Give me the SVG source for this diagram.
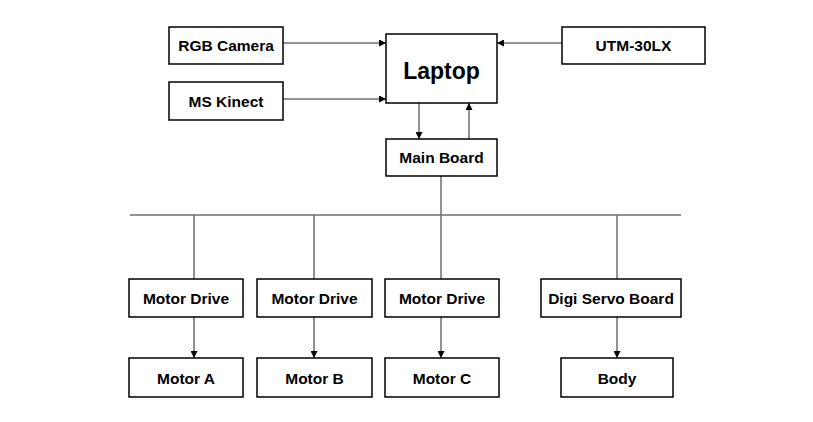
<svg xmlns="http://www.w3.org/2000/svg" width="813" height="422" viewBox="0 0 813 422">
<defs>
<marker id="ah" viewBox="0 0 10 10" refX="10" refY="5" markerWidth="7" markerHeight="7" markerUnits="userSpaceOnUse" orient="auto">
<path d="M0,0 L10,5 L0,10 z" fill="#000"/>
</marker>
</defs>
<style>
.box{fill:#fff;stroke:#000;stroke-width:1.5}
.t{font-family:"Liberation Sans",Arial,sans-serif;font-weight:bold;font-size:15.5px;text-anchor:middle;fill:#000}
.big{font-size:23px}
.c{stroke:#6e6e6e;stroke-width:1.5;fill:none}
.a{marker-end:url(#ah)}
</style>
<rect width="813" height="422" fill="#fff"/>
<g id="connectors">
<line class="c a" x1="283" y1="43" x2="386" y2="43"/>
<line class="c a" x1="283" y1="99" x2="386" y2="99"/>
<line class="c a" x1="562" y1="43" x2="497" y2="43"/>
<line class="c a" x1="419" y1="103" x2="419" y2="139"/>
<line class="c a" x1="469" y1="139" x2="469" y2="103"/>
<line class="c" x1="441" y1="176" x2="441" y2="215"/>
<line class="c" x1="130" y1="215" x2="681" y2="215"/>
<line class="c" x1="194" y1="215" x2="194" y2="279"/>
<line class="c" x1="314" y1="215" x2="314" y2="279"/>
<line class="c" x1="441" y1="215" x2="441" y2="279"/>
<line class="c" x1="617" y1="215" x2="617" y2="279"/>
<line class="c a" x1="194" y1="317" x2="194" y2="358"/>
<line class="c a" x1="314" y1="317" x2="314" y2="358"/>
<line class="c a" x1="441" y1="317" x2="441" y2="358"/>
<line class="c a" x1="617" y1="317" x2="617" y2="358"/>
</g>
<g id="rgb"><rect class="box" x="169" y="27" width="114" height="37"/><text class="t" x="226" y="51">RGB Camera</text></g>
<g id="kinect"><rect class="box" x="169" y="82" width="114" height="38"/><text class="t" x="226" y="106.5">MS Kinect</text></g>
<g id="laptop"><rect class="box" x="386" y="34" width="111" height="69"/><text class="t big" x="441.5" y="79">Laptop</text></g>
<g id="utm"><rect class="box" x="562" y="27" width="143" height="37"/><text class="t" x="633.5" y="51">UTM-30LX</text></g>
<g id="mainboard"><rect class="box" x="386" y="139" width="111" height="37"/><text class="t" x="441.5" y="163">Main Board</text></g>
<g id="md1"><rect class="box" x="129" y="279" width="114" height="38"/><text class="t" x="186" y="303.5">Motor Drive</text></g>
<g id="md2"><rect class="box" x="257" y="279" width="115" height="38"/><text class="t" x="314.5" y="303.5">Motor Drive</text></g>
<g id="md3"><rect class="box" x="385" y="279" width="114" height="38"/><text class="t" x="442" y="303.5">Motor Drive</text></g>
<g id="digi"><rect class="box" x="541" y="279" width="140" height="38"/><text class="t" x="611" y="303.5">Digi Servo Board</text></g>
<g id="ma"><rect class="box" x="129" y="358" width="114" height="39"/><text class="t" x="186" y="383.5">Motor A</text></g>
<g id="mb"><rect class="box" x="257" y="358" width="115" height="39"/><text class="t" x="314.5" y="383.5">Motor B</text></g>
<g id="mc"><rect class="box" x="385" y="358" width="114" height="39"/><text class="t" x="442" y="383.5">Motor C</text></g>
<g id="body"><rect class="box" x="561" y="358" width="112" height="39"/><text class="t" x="617" y="383.5">Body</text></g>
</svg>
